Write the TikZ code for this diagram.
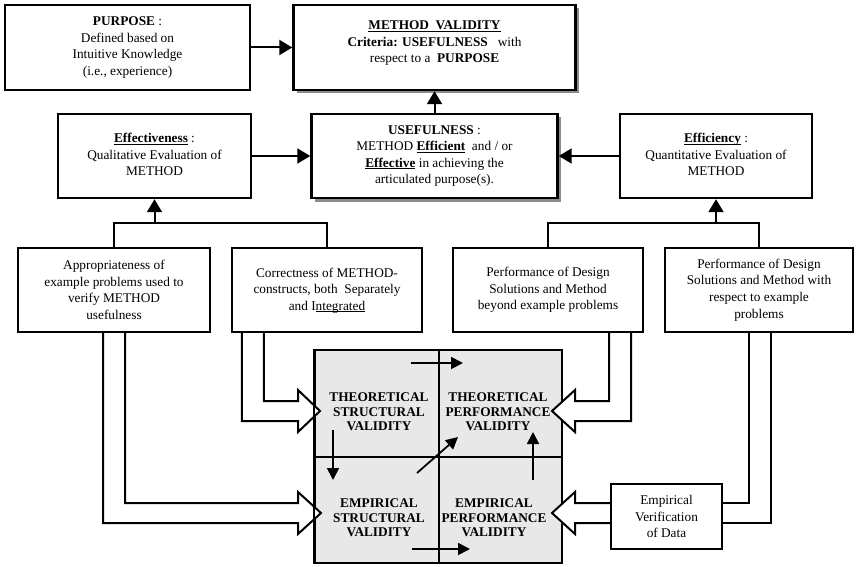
\documentclass[tikz,border=0pt]{standalone}
\usepackage{fontspec}
\setmainfont{Liberation Serif}
\usetikzlibrary{arrows.meta,calc,shadows}
\pgfdeclarelayer{background}
\pgfdeclarelayer{middle}
\pgfsetlayers{background,middle,main}
\newcommand\boxfont{\fontsize{13.3}{16.6}\selectfont}
\newcommand\quadfont{\fontsize{13.3}{14.6}\selectfont\bfseries}
% underline kept close to the baseline, ignoring descenders
\newcommand\uline[1]{\underline{\smash{#1}}}
\begin{document}
\begin{tikzpicture}[x=1pt,y=-1pt,
  box/.style={draw,fill=white,line width=2.4pt,align=center,inner sep=0pt,font=\boxfont},
  shadowed/.style={drop shadow={shadow xshift=3.5pt,shadow yshift=-3.5pt,fill=black!45,opacity=1}},
  link/.style={line width=2pt},
  arr/.style={link,-{Triangle[length=13pt,width=15pt]}},
  inner arr/.style={line width=1.8pt,-{Triangle[length=12pt,width=12pt]}},
  hollow/.style={line width=2pt,fill=white,line join=miter},
  quad/.style={align=center,inner sep=0pt,font=\quadfont},
]
\useasboundingbox (0,0) rectangle (856,567);

% upper row: purpose and method validity
\node[box,minimum width=245,minimum height=85] (purpose) at (127.5,47.5)
  {\textbf{PURPOSE} :\\Defined based on\\Intuitive Knowledge\\(i.e., experience)};
\node[box,shadowed,minimum width=282,minimum height=85] (val) at (434.5,47.5)
  {\textbf{\uline{METHOD\ \ VALIDITY}}\\\textbf{Criteria: USEFULNESS}\ \ \ with\\respect to a\ \ \textbf{PURPOSE}};

% middle row: effectiveness, usefulness, efficiency
\node[box,minimum width=193,minimum height=84] (effect) at (154.5,156)
  {\textbf{\uline{Effectiveness}} :\\Qualitative Evaluation of\\METHOD};
\node[box,shadowed,minimum width=246,minimum height=84] (useful) at (434.5,156)
  {\textbf{USEFULNESS} :\\METHOD\ \textbf{\uline{Efficient}}\ \ and / or\\\textbf{\uline{Effective}}\ in achieving the\\articulated\ purpose(s).};
\node[box,minimum width=192,minimum height=84] (effic) at (716,156)
  {\textbf{\uline{Efficiency}} :\\Quantitative Evaluation of\\METHOD};

% lower row: criteria boxes
\node[box,minimum width=192,minimum height=84] (b1) at (114,290)
  {Appropriateness of\\example problems used to\\verify METHOD\\usefulness};
\node[box,minimum width=190,minimum height=84] (b2) at (327,290)
  {Correctness of METHOD-\\constructs, both\ \ Separately\\and I\uline{ntegrated}};
\node[box,minimum width=190,minimum height=84] (b3) at (548,290)
  {Performance of Design\\Solutions and Method\\beyond example problems};
\node[box,minimum width=188,minimum height=84] (b4) at (759,290)
  {Performance of Design\\Solutions and Method with\\respect to example\\problems};

\node[box,minimum width=111,minimum height=65] (evd) at (666.5,516.5)
  {Empirical\\Verification\\of Data};

% the validation square
\begin{pgfonlayer}{background}
\node[draw,fill=gray!18,line width=2pt,minimum width=247,minimum height=213,inner sep=0pt] (sq) at (438.5,456.5) {};
\draw[line width=2pt] (sq.north) -- (sq.south);
\draw[line width=2pt] (sq.west) -- (sq.east);
\end{pgfonlayer}

\node[quad] (tsv) at (379,412) {THEORETICAL\\STRUCTURAL\\VALIDITY};
\node[quad] (tpv) at (498,412) {THEORETICAL\\PERFORMANCE\\VALIDITY};
\node[quad] (esv) at (379,518) {EMPIRICAL\\STRUCTURAL\\VALIDITY};
\node[quad] (epv) at (494,518) {EMPIRICAL\\PERFORMANCE\\VALIDITY};

% arrows between the boxes
\draw[arr] (purpose.east) -- (val.west);
\draw[arr] (useful.north) -- (val.south);
\draw[arr] (effect.east) -- (useful.west);
\draw[arr] (effic.west) -- (useful.east);

\coordinate (jl) at (154.5,223);
\coordinate (jr) at (716,223);
\draw[link] (b1.north) |- (b2.north |- jl) -- (b2.north);
\draw[arr] (jl) -- (effect.south);
\draw[link] (b3.north) |- (b4.north |- jr) -- (b4.north);
\draw[arr] (jr) -- (effic.south);

% hollow arrows feeding the square
\coordinate (tipTS) at (320,411);
\coordinate (tipES) at (321,513);
\coordinate (tipTP) at (552,411);
\coordinate (tipEP) at (552,513);
\begin{pgfonlayer}{middle}
\draw[hollow] ($(b2.south west)+(11,0)$) |- ($(tipTS)+(-22,10)$) -- ++(0,11) -- (tipTS)
  -- ++(-22,-21) -- ++(0,11) -| ($(b2.south west)+(33,0)$);
\draw[hollow] ($(b1.south)+(-11,0)$) |- ($(tipES)+(-23,10)$) -- ++(0,11) -- (tipES)
  -- ++(-23,-21) -- ++(0,11) -| ($(b1.south)+(11,0)$);
\draw[hollow] ($(b3.south east)+(-13,0)$) |- ($(tipTP)+(23,10)$) -- ++(0,11) -- (tipTP)
  -- ++(23,-21) -- ++(0,11) -| ($(b3.south east)+(-35,0)$);
\draw[hollow] ($(evd.west)+(0,6.5)$) -- ($(tipEP)+(23,10)$) -- ++(0,11) -- (tipEP)
  -- ++(23,-21) -- ++(0,11) -- ($(evd.west)+(0,-13.5)$);
\draw[line width=2pt] (sq.north west) -- (sq.south west);
\end{pgfonlayer}
\draw[link] ($(evd.east)+(0,-13.5)$) -| ($(b4.south)+(-10,0)$);
\draw[link] ($(evd.east)+(0,6.5)$) -| ($(b4.south)+(12,0)$);

% arrows inside the square
\coordinate (s1) at (411,363); \coordinate (e1) at (463,363);
\coordinate (s2) at (333,430); \coordinate (e2) at (333,480);
\coordinate (s3) at (417,473); \coordinate (e3) at (458,437);
\coordinate (s4) at (533,480); \coordinate (e4) at (533,432);
\coordinate (s5) at (412,549); \coordinate (e5) at (470,549);
\draw[inner arr] (s1) -- (e1);
\draw[inner arr] (s2) -- (e2);
\draw[inner arr] (s3) -- (e3);
\draw[inner arr] (s4) -- (e4);
\draw[inner arr] (s5) -- (e5);
\end{tikzpicture}
\end{document}
